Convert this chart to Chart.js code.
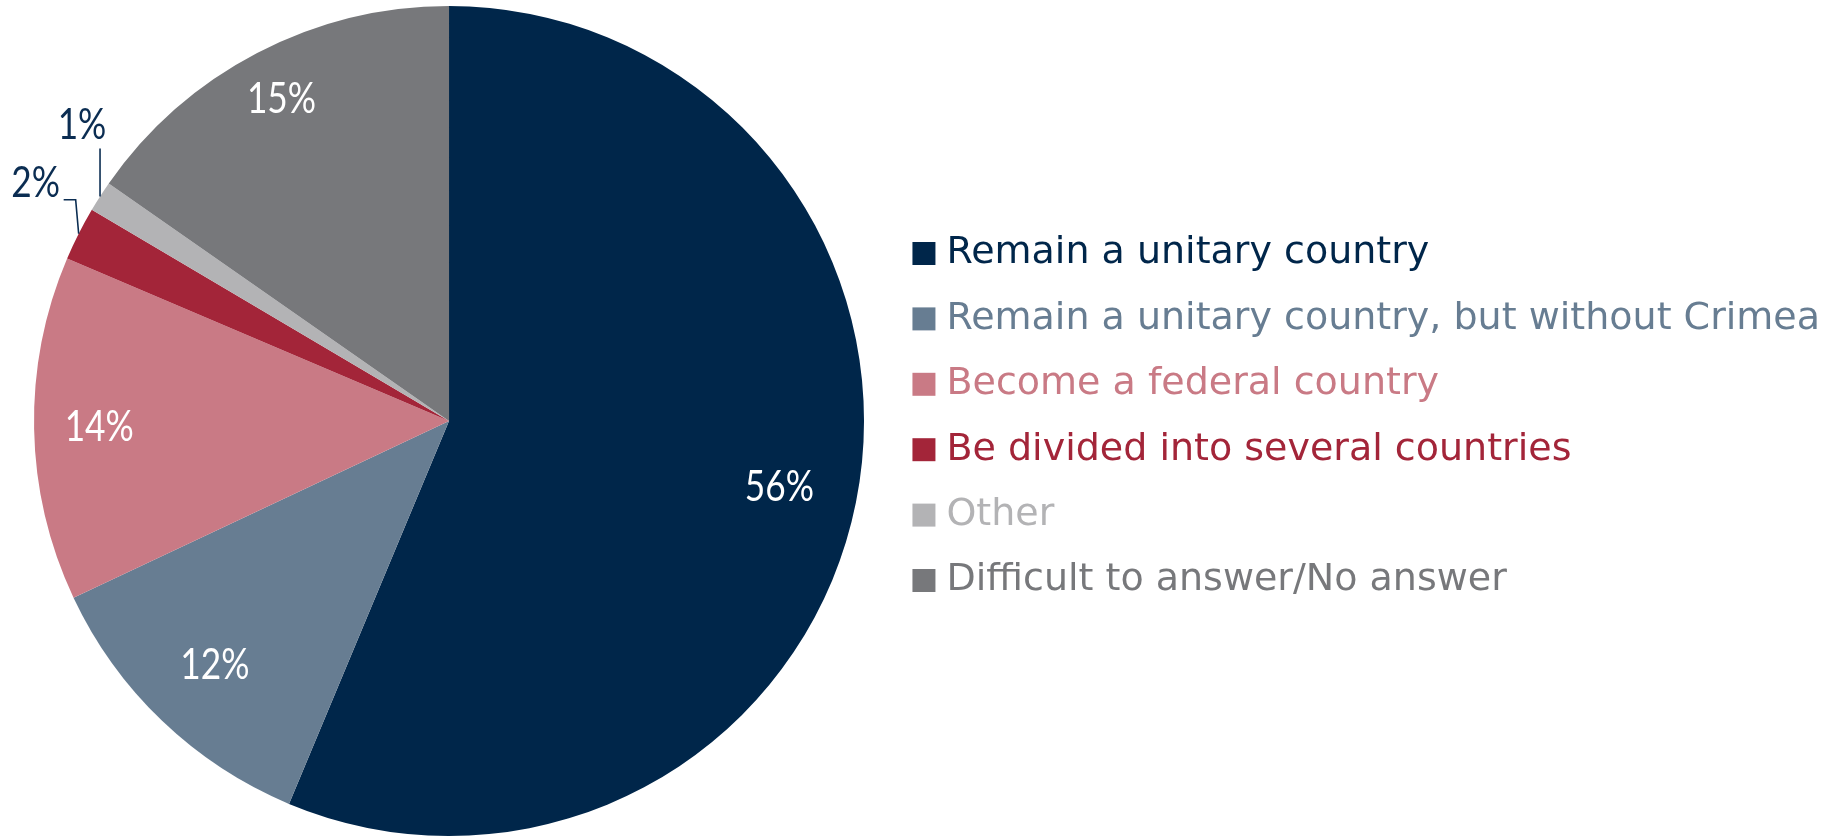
<!DOCTYPE html>
<html>
<head>
<meta charset="utf-8">
<script src="https://cdn.jsdelivr.net/npm/chart.js@4.4.1/dist/chart.umd.min.js"></script>
<style>
  html, body { margin: 0; padding: 0; background: #fff; }
  #wrap { width: 1837px; height: 838px; }
</style>
</head>
<body>
<div id="wrap"><canvas id="pie" width="1837" height="838"></canvas></div>
<script>
const categories = [
  "Remain a unitary country",
  "Remain a unitary country, but without Crimea",
  "Become a federal country",
  "Be divided into several countries",
  "Other",
  "Difficult to answer/No answer"
];
// slice sizes
const shares = [56.3, 11.7, 13.4, 2.1, 1.2, 15.3];
// the printed labels
const shareLabels = ["56%", "12%", "14%", "2%", "1%", "15%"];
const sliceColors = ["#00264A", "#677D92", "#C97A85", "#A32539", "#B3B3B5", "#77787B"];

// label placement: fraction of radius for inside labels, null = outside with leader
const labelRadius = [0.812, 0.816, 0.843, null, null, 0.873];
const outsideInk = "#0B2D52";
const pctFont = "42px Lato, sans-serif";

function squeezedText(ctx, txt, x, y) {
  // narrow the label a bit, the original uses a condensed face
  ctx.save();
  ctx.translate(x, y);
  ctx.scale(0.84, 1);
  ctx.fillText(txt, 0, 0);
  ctx.restore();
}

const pieLabels = {
  id: "pieLabels",
  afterLayout(chart) {
    // lift the legend block a little
    chart.legend.top -= 4;
    chart.legend.bottom -= 4;
  },
  afterDatasetsDraw(chart) {
    const ctx = chart.ctx;
    const meta = chart.getDatasetMeta(0);
    ctx.save();
    ctx.font = pctFont;
    ctx.textAlign = "center";
    ctx.textBaseline = "middle";
    meta.data.forEach((arc, i) => {
      const { x, y, startAngle, endAngle, outerRadius } = arc.getProps(["x", "y", "startAngle", "endAngle", "outerRadius"], true);
      const mid = (startAngle + endAngle) / 2;
      const txt = shareLabels[i];
      const f = labelRadius[i];
      if (f !== null) {
        ctx.fillStyle = "#ffffff";
        squeezedText(ctx, txt, x + Math.cos(mid) * outerRadius * f, y + Math.sin(mid) * outerRadius * f);
        return;
      }
      const ex = x + Math.cos(mid) * outerRadius;
      const ey = y + Math.sin(mid) * outerRadius;
      ctx.strokeStyle = outsideInk;
      ctx.lineWidth = 1.6;
      ctx.fillStyle = outsideInk;
      ctx.beginPath();
      if (i === 3) {
        // bent leader: up, then left
        ctx.moveTo(ex, ey);
        ctx.lineTo(ex - 3, ey - 34);
        ctx.lineTo(ex - 15, ey - 34);
        ctx.stroke();
        squeezedText(ctx, txt, ex - 43, ey - 50);
      } else {
        ctx.moveTo(ex, ey);
        ctx.lineTo(ex, ey - 48);
        ctx.stroke();
        squeezedText(ctx, txt, ex - 18, ey - 71);
      }
    });
    ctx.restore();
  }
};

new Chart(document.getElementById("pie"), {
  type: "pie",
  data: {
    labels: categories,
    datasets: [{
      data: shares,
      backgroundColor: sliceColors,
      borderWidth: 0
    }]
  },
  options: {
    responsive: false,
    animation: false,
    layout: { padding: { left: 5, right: 7, top: 6, bottom: 2 } },
    plugins: {
      tooltip: { enabled: false },
      legend: {
        position: "right",
        maxWidth: 1000,
        labels: {
          usePointStyle: true,
          boxWidth: 7,
          boxHeight: 23,
          padding: 27.4,
          font: { family: "'DejaVu Sans', Verdana, sans-serif", size: 38 },
          generateLabels(chart) {
            const ds = chart.data.datasets[0];
            return chart.data.labels.map((label, i) => ({
              text: label,
              fillStyle: ds.backgroundColor[i],
              strokeStyle: ds.backgroundColor[i],
              lineWidth: 0,
              pointStyle: "rect",
              rotation: 0,
              fontColor: ds.backgroundColor[i],
              hidden: false,
              index: i
            }));
          }
        }
      }
    }
  },
  plugins: [pieLabels]
});
</script>
</body>
</html>
